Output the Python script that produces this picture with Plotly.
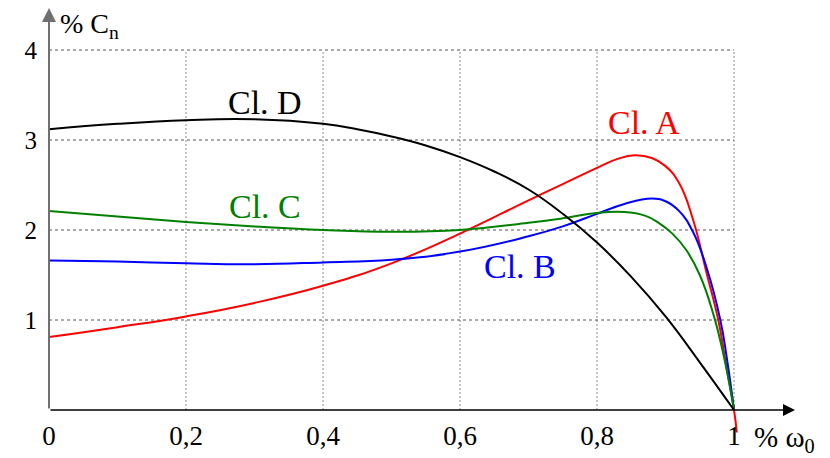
import plotly.graph_objects as go

# ---- data ----
a_x = [0, 0.1, 0.2, 0.3, 0.4, 0.5, 0.6, 0.7, 0.75, 0.8, 0.83, 0.855, 0.88, 0.9, 0.92, 0.94, 0.96, 0.977, 0.988, 1.0, 1.004]
a_y = [0.81, 0.92, 1.04, 1.19, 1.38, 1.63, 1.96, 2.33, 2.51, 2.69, 2.79, 2.83, 2.80, 2.71, 2.52, 2.12, 1.52, 1.00, 0.52, 0.0, -0.25]

b_x = [0, 0.1, 0.2, 0.3, 0.4, 0.5, 0.6, 0.7, 0.75, 0.8, 0.84, 0.88, 0.9, 0.92, 0.94, 0.96, 0.98, 0.99, 1.0]
b_y = [1.66, 1.65, 1.63, 1.62, 1.64, 1.67, 1.76, 1.93, 2.04, 2.18, 2.29, 2.35, 2.32, 2.21, 1.98, 1.58, 1.00, 0.55, 0.0]

c_x = [0, 0.1, 0.2, 0.3, 0.4, 0.5, 0.6, 0.7, 0.75, 0.8, 0.84, 0.87, 0.89, 0.91, 0.93, 0.95, 0.97, 0.985, 1.0]
c_y = [2.21, 2.15, 2.09, 2.04, 2.00, 1.98, 2.00, 2.08, 2.13, 2.19, 2.20, 2.16, 2.08, 1.96, 1.78, 1.50, 1.06, 0.60, 0.0]

d_x = [0, 0.1, 0.2, 0.3, 0.4, 0.45, 0.5, 0.55, 0.6, 0.65, 0.7, 0.75, 0.8, 0.85, 0.9, 0.95, 1.0]
d_y = [3.12, 3.18, 3.22, 3.23, 3.18, 3.12, 3.04, 2.94, 2.81, 2.65, 2.45, 2.18, 1.86, 1.48, 1.04, 0.53, 0.0]

x_ticks = [0, 0.2, 0.4, 0.6, 0.8, 1.0]
x_ticktext = ["0", "0,2", "0,4", "0,6", "0,8", "1"]
y_ticks = [1, 2, 3, 4]
y_ticktext = ["1", "2", "3", "4"]

series = [
    ("Cl. A", a_x, a_y, "#ff0000", 0.869, 3.20),
    ("Cl. B", b_x, b_y, "#0000ff", 0.688, 1.60),
    ("Cl. C", c_x, c_y, "#008000", 0.315, 2.26),
    ("Cl. D", d_x, d_y, "#000000", 0.315, 3.42),
]

FONT = "Liberation Serif"
X_MAX = 1.089
Y_MIN, Y_MAX = -0.4, 4.467

fig = go.Figure()

# grid (dashed, limited to the [0,1] x [0,4] box)
shapes = []
for v in x_ticks[1:]:
    shapes.append(dict(type="line", xref="x", yref="y", x0=v, x1=v, y0=0, y1=max(y_ticks),
                       line=dict(color="#8a8a8a", width=1, dash="2px,2px"), layer="below"))
for v in y_ticks:
    shapes.append(dict(type="line", xref="x", yref="y", x0=0, x1=max(x_ticks), y0=v, y1=v,
                       line=dict(color="#555555", width=1, dash="3px,3px"), layer="below"))

annotations = []
for name, xs, ys, col, lx, ly in series:
    fig.add_trace(go.Scatter(x=xs, y=ys, mode="lines", name=name,
                             line=dict(color=col, width=2, shape="spline", smoothing=1.3),
                             showlegend=False, hoverinfo="skip"))
    annotations.append(dict(x=lx, y=ly, xref="x", yref="y", text=name, showarrow=False,
                            font=dict(family=FONT, size=34, color=col),
                            xanchor="center", yanchor="middle"))

# axis arrows
annotations.append(dict(x=X_MAX, y=0, ax=0, ay=0, xref="x", yref="y", axref="x", ayref="y",
                        text="", showarrow=True, arrowhead=2, arrowsize=1.6, arrowwidth=1.5,
                        arrowcolor="#000000", standoff=0))
annotations.append(dict(x=0, y=Y_MAX, ax=0, ay=0, xref="x", yref="y", axref="x", ayref="y",
                        text="", showarrow=True, arrowhead=2, arrowsize=1.4, arrowwidth=2,
                        arrowcolor="#707070", standoff=0))

# axis titles
annotations.append(dict(x=0.013, y=4.27, xref="x", yref="y", text="% C<sub>n</sub>",
                        showarrow=False, xanchor="left", yanchor="middle",
                        font=dict(family=FONT, size=28, color="black")))
annotations.append(dict(x=1.026, y=-0.32, xref="x", yref="y", text="% ω<sub>0</sub>",
                        showarrow=False, xanchor="left", yanchor="middle",
                        font=dict(family=FONT, size=29, color="black")))

fig.update_layout(
    width=830, height=458,
    margin=dict(l=41, r=43, t=0, b=20),
    paper_bgcolor="white", plot_bgcolor="white",
    shapes=shapes, annotations=annotations,
    font=dict(family=FONT, size=25, color="black"),
    xaxis=dict(range=[0, X_MAX], showgrid=False, zeroline=False, showline=False,
               tickvals=x_ticks, ticktext=x_ticktext, ticks="outside", ticklen=2,
               tickcolor="rgba(0,0,0,0)",
               anchor="free", position=(0 - Y_MIN) / (Y_MAX - Y_MIN),
               tickfont=dict(family=FONT, size=27, color="black"), automargin=False, fixedrange=True),
    yaxis=dict(range=[Y_MIN, Y_MAX], showgrid=False, zeroline=False, showline=False,
               tickvals=y_ticks, ticktext=y_ticktext, ticks="outside", ticklen=6,
               tickcolor="rgba(0,0,0,0)",
               tickfont=dict(family=FONT, size=25, color="black"), automargin=False, fixedrange=True),
)

fig.write_html("out.html")
